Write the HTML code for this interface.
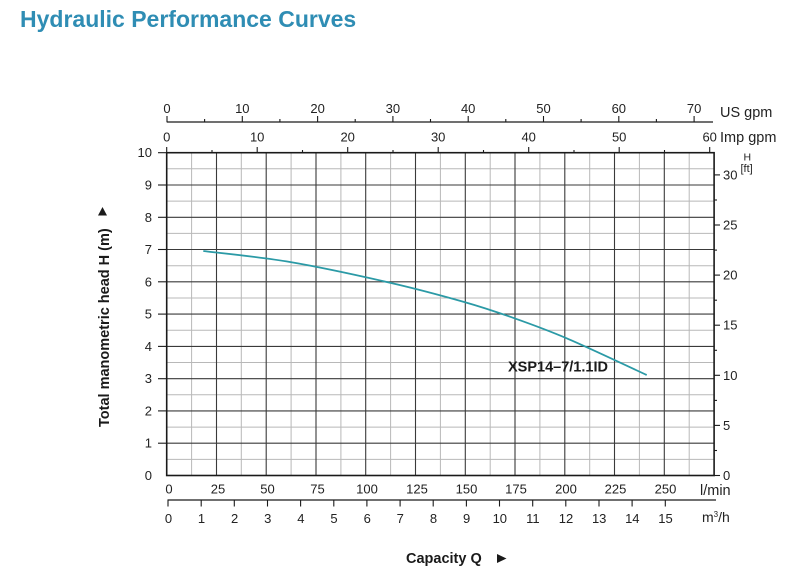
<!DOCTYPE html>
<html><head><meta charset="utf-8"><style>
html,body{margin:0;padding:0;background:#fff;}
svg{display:block;font-family:"Liberation Sans",Arial,sans-serif;}
</style></head><body>
<svg width="809" height="586" viewBox="0 0 809 586" xmlns="http://www.w3.org/2000/svg">
<text x="20" y="27" font-size="23" font-weight="bold" fill="#2f8db4">Hydraulic Performance Curves</text>

<!-- light grid -->
<g stroke="#b8b8b8" stroke-width="1">
<line x1="191.6" y1="152.7" x2="191.6" y2="475.5"/><line x1="241.3" y1="152.7" x2="241.3" y2="475.5"/><line x1="291.1" y1="152.7" x2="291.1" y2="475.5"/><line x1="340.9" y1="152.7" x2="340.9" y2="475.5"/><line x1="390.6" y1="152.7" x2="390.6" y2="475.5"/><line x1="440.4" y1="152.7" x2="440.4" y2="475.5"/><line x1="490.2" y1="152.7" x2="490.2" y2="475.5"/><line x1="539.9" y1="152.7" x2="539.9" y2="475.5"/><line x1="589.7" y1="152.7" x2="589.7" y2="475.5"/><line x1="639.4" y1="152.7" x2="639.4" y2="475.5"/><line x1="689.2" y1="152.7" x2="689.2" y2="475.5"/>
<line x1="166.7" y1="459.4" x2="714.1" y2="459.4"/><line x1="166.7" y1="427.1" x2="714.1" y2="427.1"/><line x1="166.7" y1="394.8" x2="714.1" y2="394.8"/><line x1="166.7" y1="362.5" x2="714.1" y2="362.5"/><line x1="166.7" y1="330.2" x2="714.1" y2="330.2"/><line x1="166.7" y1="298" x2="714.1" y2="298"/><line x1="166.7" y1="265.7" x2="714.1" y2="265.7"/><line x1="166.7" y1="233.4" x2="714.1" y2="233.4"/><line x1="166.7" y1="201.1" x2="714.1" y2="201.1"/><line x1="166.7" y1="168.8" x2="714.1" y2="168.8"/>
</g>
<!-- dark grid -->
<g stroke="#3a3a3a" stroke-width="1.1">
<line x1="216.5" y1="152.7" x2="216.5" y2="475.5"/><line x1="266.2" y1="152.7" x2="266.2" y2="475.5"/><line x1="316" y1="152.7" x2="316" y2="475.5"/><line x1="365.7" y1="152.7" x2="365.7" y2="475.5"/><line x1="415.5" y1="152.7" x2="415.5" y2="475.5"/><line x1="465.3" y1="152.7" x2="465.3" y2="475.5"/><line x1="515" y1="152.7" x2="515" y2="475.5"/><line x1="564.8" y1="152.7" x2="564.8" y2="475.5"/><line x1="614.5" y1="152.7" x2="614.5" y2="475.5"/><line x1="664.3" y1="152.7" x2="664.3" y2="475.5"/>
<line x1="166.7" y1="443.2" x2="714.1" y2="443.2"/><line x1="166.7" y1="410.9" x2="714.1" y2="410.9"/><line x1="166.7" y1="378.7" x2="714.1" y2="378.7"/><line x1="166.7" y1="346.4" x2="714.1" y2="346.4"/><line x1="166.7" y1="314.1" x2="714.1" y2="314.1"/><line x1="166.7" y1="281.8" x2="714.1" y2="281.8"/><line x1="166.7" y1="249.5" x2="714.1" y2="249.5"/><line x1="166.7" y1="217.3" x2="714.1" y2="217.3"/><line x1="166.7" y1="185" x2="714.1" y2="185"/>
</g>
<!-- border -->
<rect x="166.7" y="152.7" width="547.4" height="322.8" fill="none" stroke="#1a1a1a" stroke-width="1.6"/>

<!-- left ticks -->
<g stroke="#1a1a1a" stroke-width="1.1">
<line x1="158" y1="152.7" x2="167" y2="152.7"/><line x1="158" y1="185" x2="167" y2="185"/><line x1="158" y1="217.3" x2="167" y2="217.3"/><line x1="158" y1="249.5" x2="167" y2="249.5"/><line x1="158" y1="281.8" x2="167" y2="281.8"/><line x1="158" y1="314.1" x2="167" y2="314.1"/><line x1="158" y1="346.4" x2="167" y2="346.4"/><line x1="158" y1="378.7" x2="167" y2="378.7"/><line x1="158" y1="410.9" x2="167" y2="410.9"/><line x1="158" y1="443.2" x2="167" y2="443.2"/>
</g>
<g font-size="13" fill="#222" text-anchor="end">
<text x="152" y="157.2">10</text><text x="152" y="189.5">9</text><text x="152" y="221.8">8</text><text x="152" y="254">7</text><text x="152" y="286.3">6</text><text x="152" y="318.6">5</text><text x="152" y="350.9">4</text><text x="152" y="383.2">3</text><text x="152" y="415.4">2</text><text x="152" y="447.7">1</text><text x="152" y="480">0</text>
</g>

<!-- right ft ticks -->
<g stroke="#1a1a1a" stroke-width="1.1">
<line x1="714" y1="475.5" x2="720" y2="475.5"/><line x1="714" y1="450.5" x2="717" y2="450.5"/><line x1="714" y1="425.4" x2="720" y2="425.4"/><line x1="714" y1="400.4" x2="717" y2="400.4"/><line x1="714" y1="375.3" x2="720" y2="375.3"/><line x1="714" y1="350.3" x2="717" y2="350.3"/><line x1="714" y1="325.2" x2="720" y2="325.2"/><line x1="714" y1="300.2" x2="717" y2="300.2"/><line x1="714" y1="275.1" x2="720" y2="275.1"/><line x1="714" y1="250.1" x2="717" y2="250.1"/><line x1="714" y1="225" x2="720" y2="225"/><line x1="714" y1="200" x2="717" y2="200"/><line x1="714" y1="174.9" x2="720" y2="174.9"/>
</g>
<g font-size="13" fill="#222">
<text x="723" y="480">0</text><text x="723" y="429.9">5</text><text x="723" y="379.8">10</text><text x="723" y="329.7">15</text><text x="723" y="279.6">20</text><text x="723" y="229.5">25</text><text x="723" y="179.4">30</text>
<text x="743.5" y="160.5" font-size="10.5">H</text><text x="740.5" y="172" font-size="11">[ft]</text>
</g>

<!-- US gpm axis -->
<line x1="166.7" y1="122" x2="713" y2="122" stroke="#1a1a1a" stroke-width="1.3"/>
<g stroke="#1a1a1a" stroke-width="1.1">
<line x1="167" y1="116" x2="167" y2="122"/><line x1="204.6" y1="119" x2="204.6" y2="122"/><line x1="242.3" y1="116" x2="242.3" y2="122"/><line x1="279.9" y1="119" x2="279.9" y2="122"/><line x1="317.6" y1="116" x2="317.6" y2="122"/><line x1="355.2" y1="119" x2="355.2" y2="122"/><line x1="392.9" y1="116" x2="392.9" y2="122"/><line x1="430.5" y1="119" x2="430.5" y2="122"/><line x1="468.2" y1="116" x2="468.2" y2="122"/><line x1="505.8" y1="119" x2="505.8" y2="122"/><line x1="543.5" y1="116" x2="543.5" y2="122"/><line x1="581.1" y1="119" x2="581.1" y2="122"/><line x1="618.8" y1="116" x2="618.8" y2="122"/><line x1="656.4" y1="119" x2="656.4" y2="122"/><line x1="694.1" y1="116" x2="694.1" y2="122"/>
</g>
<g font-size="13" fill="#222" text-anchor="middle">
<text x="167" y="112.8">0</text><text x="242.3" y="112.8">10</text><text x="317.6" y="112.8">20</text><text x="392.9" y="112.8">30</text><text x="468.2" y="112.8">40</text><text x="543.5" y="112.8">50</text><text x="618.8" y="112.8">60</text><text x="694.1" y="112.8">70</text>
</g>
<text x="720" y="117" font-size="14.5" fill="#222">US gpm</text>

<!-- Imp gpm axis -->
<g stroke="#1a1a1a" stroke-width="1.1">
<line x1="166.7" y1="147" x2="166.7" y2="153"/><line x1="212" y1="150" x2="212" y2="153"/><line x1="257.2" y1="147" x2="257.2" y2="153"/><line x1="302.5" y1="150" x2="302.5" y2="153"/><line x1="347.7" y1="147" x2="347.7" y2="153"/><line x1="393" y1="150" x2="393" y2="153"/><line x1="438.2" y1="147" x2="438.2" y2="153"/><line x1="483.5" y1="150" x2="483.5" y2="153"/><line x1="528.7" y1="147" x2="528.7" y2="153"/><line x1="574" y1="150" x2="574" y2="153"/><line x1="619.2" y1="147" x2="619.2" y2="153"/><line x1="664.5" y1="150" x2="664.5" y2="153"/><line x1="709.7" y1="147" x2="709.7" y2="153"/>
</g>
<g font-size="13" fill="#222" text-anchor="middle">
<text x="166.7" y="141.3">0</text><text x="257.2" y="141.3">10</text><text x="347.7" y="141.3">20</text><text x="438.2" y="141.3">30</text><text x="528.7" y="141.3">40</text><text x="619.2" y="141.3">50</text><text x="709.7" y="141.3">60</text>
</g>
<text x="720" y="142" font-size="14.5" fill="#222">Imp gpm</text>

<!-- l/min labels -->
<g font-size="13" fill="#222" text-anchor="middle">
<text x="169" y="493.5">0</text><text x="218" y="493.5">25</text><text x="267.5" y="493.5">50</text><text x="317.5" y="493.5">75</text><text x="367" y="493.5">100</text><text x="417" y="493.5">125</text><text x="466.5" y="493.5">150</text><text x="516" y="493.5">175</text><text x="566" y="493.5">200</text><text x="615.5" y="493.5">225</text><text x="665.5" y="493.5">250</text>
</g>
<text x="700" y="495" font-size="14.5" fill="#222">l/min</text>

<!-- m3/h axis -->
<line x1="167.5" y1="500" x2="716" y2="500" stroke="#1a1a1a" stroke-width="1.2"/>
<g stroke="#1a1a1a" stroke-width="1.1">
<line x1="168" y1="500" x2="168" y2="506.5"/><line x1="201.2" y1="500" x2="201.2" y2="506.5"/><line x1="234.3" y1="500" x2="234.3" y2="506.5"/><line x1="267.5" y1="500" x2="267.5" y2="506.5"/><line x1="300.6" y1="500" x2="300.6" y2="506.5"/><line x1="333.8" y1="500" x2="333.8" y2="506.5"/><line x1="366.9" y1="500" x2="366.9" y2="506.5"/><line x1="400.1" y1="500" x2="400.1" y2="506.5"/><line x1="433.2" y1="500" x2="433.2" y2="506.5"/><line x1="466.4" y1="500" x2="466.4" y2="506.5"/><line x1="499.5" y1="500" x2="499.5" y2="506.5"/><line x1="532.7" y1="500" x2="532.7" y2="506.5"/><line x1="565.8" y1="500" x2="565.8" y2="506.5"/><line x1="599" y1="500" x2="599" y2="506.5"/><line x1="632.1" y1="500" x2="632.1" y2="506.5"/><line x1="665.3" y1="500" x2="665.3" y2="506.5"/>
</g>
<g font-size="13" fill="#222" text-anchor="middle">
<text x="168.5" y="523">0</text><text x="201.5" y="523">1</text><text x="234.6" y="523">2</text><text x="267.8" y="523">3</text><text x="300.9" y="523">4</text><text x="334" y="523">5</text><text x="367.2" y="523">6</text><text x="400.3" y="523">7</text><text x="433.5" y="523">8</text><text x="466.6" y="523">9</text><text x="499.8" y="523">10</text><text x="532.9" y="523">11</text><text x="566" y="523">12</text><text x="599.2" y="523">13</text><text x="632.3" y="523">14</text><text x="665.5" y="523">15</text>
</g>
<text x="702" y="522" font-size="14" fill="#222">m<tspan font-size="8" dy="-5">3</tspan><tspan dy="5">/h</tspan></text>

<!-- curve -->
<path d="M203.3 251 C217.75 252.83 258.88 256.72 290 262 C321.12 267.28 361.12 276.08 390 282.7 C418.88 289.32 443.3 296.03 463.3 301.7 C483.3 307.37 492.77 310.6 510 316.7 C527.23 322.8 543.92 328.58 566.7 338.3 C589.48 348.02 633.37 368.88 646.7 375" fill="none" stroke="#2b9aa6" stroke-width="1.8"/>
<text x="508" y="371.5" font-size="14.5" font-weight="bold" fill="#1a1a1a">XSP14–7/1.1ID</text>

<!-- axis titles -->
<text transform="translate(109,427) rotate(-90)" font-size="14.5" font-weight="bold" fill="#1a1a1a">Total manometric head H (m)</text>
<polygon points="102.5,207 98,215.5 107,215.5" fill="#1a1a1a"/>
<text x="406" y="563" font-size="14.5" font-weight="bold" fill="#1a1a1a">Capacity Q</text>
<polygon points="497,554 497,563 506.5,558.5" fill="#1a1a1a"/>
</svg>
</body></html>
